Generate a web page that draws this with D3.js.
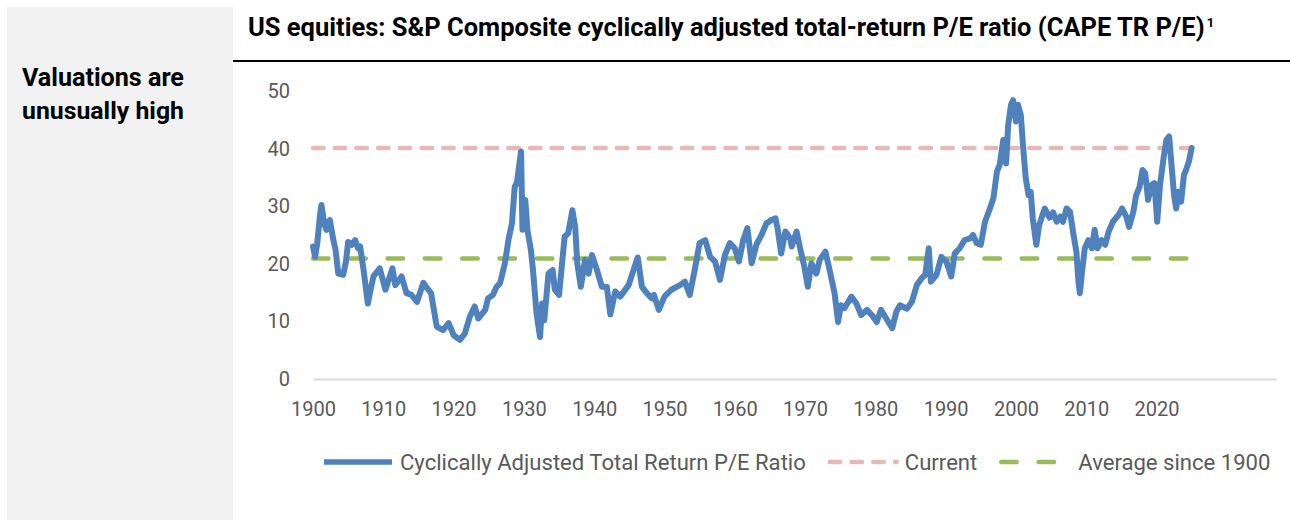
<!DOCTYPE html>
<html>
<head>
<meta charset="utf-8">
<script src="https://cdn.jsdelivr.net/npm/d3@7"></script>
<style>
  html, body { margin: 0; padding: 0; background: #fff; }
  svg { display: block; font-family: Roboto, "Noto Sans", sans-serif; }
</style>
</head>
<body>
<svg id="chart" width="1290" height="520"></svg>
<script>

// CAPE TR P/E readings (year fraction, value)
let dates = [
    1900.0, 1900.3, 1900.6, 1901.0, 1901.2, 1901.6, 1901.9, 1902.4, 1902.9, 1903.2,
    1903.6, 1904.3, 1904.7, 1905.0, 1905.5, 1906.0, 1906.4, 1906.7, 1907.2, 1907.8,
    1908.2, 1908.6, 1909.5, 1910.3, 1911.3, 1911.7, 1912.6, 1913.3, 1914.0, 1914.8,
    1915.7, 1916.4, 1916.8, 1917.6, 1918.5, 1919.3, 1920.0, 1920.9, 1921.6, 1922.3,
    1923.0, 1923.5, 1924.5, 1924.9, 1925.6, 1926.1, 1926.6, 1927.3, 1927.8, 1928.3,
    1928.7, 1929.0, 1929.6, 1929.8, 1930.2, 1930.5, 1931.0, 1931.3, 1931.8, 1932.3,
    1932.6, 1932.9, 1933.5, 1934.1, 1934.4, 1935.0, 1935.8, 1936.3, 1936.9, 1937.3,
    1937.6, 1938.1, 1938.7, 1939.2, 1939.7, 1940.4, 1941.1, 1941.8, 1942.3, 1943.0,
    1943.7, 1944.9, 1945.6, 1946.2, 1946.8, 1947.5, 1948.2, 1948.5, 1949.2, 1950.0,
    1951.0, 1952.2, 1952.9, 1953.6, 1954.3, 1955.0, 1955.8, 1956.5, 1957.2, 1957.9,
    1958.6, 1959.3, 1960.0, 1960.6, 1961.2, 1961.8, 1962.4, 1963.1, 1963.8, 1964.5,
    1965.2, 1965.8, 1966.1, 1966.6, 1967.2, 1967.9, 1968.1, 1968.8, 1969.3, 1969.9,
    1970.4, 1970.9, 1971.6, 1972.1, 1972.9, 1973.5, 1974.2, 1974.7, 1975.1, 1975.6,
    1976.6, 1977.3, 1978.0, 1978.8, 1979.5, 1980.2, 1980.8, 1981.4, 1982.4, 1983.0,
    1983.5, 1984.5, 1985.2, 1985.9, 1986.6, 1987.1, 1987.6, 1987.9, 1988.7, 1989.4,
    1990.1, 1990.8, 1991.3, 1992.0, 1992.7, 1993.5, 1993.9, 1994.4, 1995.0, 1995.6,
    1996.3, 1996.8, 1997.3, 1997.7, 1998.2, 1998.6, 1998.9, 1999.3, 1999.6, 2000.0,
    2000.3, 2000.7, 2001.0, 2001.4, 2001.8, 2002.1, 2002.4, 2002.9, 2003.3, 2004.1,
    2004.8, 2005.3, 2005.8, 2006.3, 2006.7, 2007.2, 2007.7, 2008.2, 2008.6, 2008.9,
    2009.1, 2009.4, 2009.8, 2010.3, 2010.8, 2011.2, 2011.6, 2012.2, 2012.7, 2013.2,
    2013.8, 2014.6, 2015.1, 2015.7, 2016.1, 2016.7, 2017.1, 2017.6, 2018.0, 2018.4,
    2018.8, 2019.3, 2019.7, 2020.1, 2020.5, 2021.0, 2021.4, 2021.8, 2022.1, 2022.5,
    2022.8, 2023.1, 2023.5, 2023.9, 2024.2, 2024.6, 2025.0
];

let cape = [
    23.0, 21.2, 23.5, 28.5, 30.2, 27.0, 25.9, 27.6, 24.1, 22.5,
    18.3, 18.1, 20.5, 23.8, 23.3, 24.1, 22.7, 23.0, 18.9, 13.1,
    15.5, 17.8, 19.2, 15.5, 19.2, 16.3, 17.8, 14.9, 14.6, 13.4,
    16.7, 15.5, 14.9, 9.1, 8.5, 9.7, 7.6, 6.8, 7.9, 10.8,
    12.6, 10.5, 12.0, 14.0, 14.6, 16.0, 16.6, 20.1, 24.1, 27.0,
    33.4, 34.0, 39.5, 25.9, 31.1, 25.9, 22.4, 18.9, 11.4, 7.3,
    13.1, 10.2, 18.3, 18.9, 15.5, 14.6, 24.7, 25.3, 29.3, 26.4,
    20.1, 16.0, 20.7, 18.3, 21.5, 18.9, 16.0, 16.0, 11.2, 15.2,
    14.3, 16.3, 18.9, 21.1, 16.0, 14.9, 14.0, 14.6, 12.0, 14.3,
    15.5, 16.3, 16.9, 14.6, 18.9, 23.6, 24.1, 21.2, 20.4, 17.2,
    21.5, 23.6, 22.7, 20.4, 24.1, 26.2, 20.1, 23.4, 25.0, 27.0,
    27.6, 27.9, 26.1, 21.8, 25.6, 24.4, 23.0, 25.6, 22.7, 19.5,
    16.0, 20.1, 18.3, 20.7, 22.1, 18.9, 14.9, 9.9, 12.8, 12.3,
    14.3, 13.1, 11.1, 12.0, 11.1, 9.9, 12.0, 10.8, 8.8, 11.7,
    12.8, 12.2, 13.4, 16.3, 17.5, 18.1, 22.7, 16.9, 18.1, 21.2,
    20.4, 17.8, 21.8, 22.7, 24.1, 24.4, 25.0, 23.6, 23.3, 27.3,
    29.6, 31.4, 36.0, 37.2, 41.5, 37.4, 44.1, 47.6, 48.4, 44.7,
    47.6, 45.8, 40.6, 34.8, 31.9, 32.5, 27.9, 23.3, 26.7, 29.6,
    28.0, 28.9, 27.3, 28.2, 27.3, 29.6, 29.0, 25.0, 22.1, 16.9,
    14.9, 18.6, 22.7, 24.1, 22.7, 25.9, 22.7, 24.1, 23.3, 25.6,
    27.3, 28.5, 29.6, 28.2, 26.4, 29.0, 31.9, 33.4, 36.3, 35.7,
    31.1, 33.7, 34.0, 27.3, 33.7, 38.3, 41.5, 42.1, 37.7, 31.9,
    29.6, 32.5, 30.8, 35.4, 36.3, 37.7, 40.1
];

let currentLevel = 40.1;
let averageLevel = 20.9;

let yTicks = [0, 10, 20, 30, 40, 50];
let xTickLabels = ['1900', '1910', '1920', '1930', '1940', '1950', '1960',
    '1970', '1980', '1990', '2000', '2010', '2020'];

let titleText = 'US equities: S&P Composite cyclically adjusted total-return P/E ratio (CAPE TR P/E)';
let sideLines = ['Valuations are', 'unusually high'];
let legendLabels = ['Cyclically Adjusted Total Return P/E Ratio', 'Current', 'Average since 1900'];

let Colors = {
    Cape: '#4f81bd',
    Current: '#e6b9b8',
    Average: '#9bbb59',
    Text: '#595959',
    Axis: '#d9d9d9',
    Panel: '#f2f2f2'
};

let Plot = { Left: 313, Right: 1276, Top: 91, Bottom: 379 };

let svg = d3.select('#chart');

// grows/shrinks a text node's font so its width matches the reference
function fitWidth(sel, target) {
    let w = sel.node().getComputedTextLength();
    let fs = parseFloat(sel.attr('font-size'));
    sel.attr('font-size', (fs * target / w).toFixed(2));
}

// left grey panel
svg.append('rect')
    .attr('x', 7).attr('y', 7)
    .attr('width', 226).attr('height', 513)
    .attr('fill', Colors.Panel);

sideLines.forEach((line, i) => {
    let t = svg.append('text')
        .attr('x', 22)
        .attr('y', 86 + i * 33)
        .attr('font-size', 20)
        .attr('font-weight', 700)
        .attr('fill', '#000')
        .text(line);
    fitWidth(t, 162);
});

// title + rule
let title = svg.append('text')
    .attr('x', 248)
    .attr('y', 36)
    .attr('font-size', 18)
    .attr('font-weight', 700)
    .attr('fill', '#000')
    .text(titleText);
fitWidth(title, 957);
let titleEnd = 248 + title.node().getComputedTextLength();
svg.append('text')
    .attr('x', titleEnd + 2)
    .attr('y', 27)
    .attr('font-size', 13)
    .attr('font-weight', 700)
    .text('1');

svg.append('line')
    .attr('x1', 233).attr('x2', 1290)
    .attr('y1', 61).attr('y2', 61)
    .attr('stroke', '#000')
    .attr('stroke-width', 2);

// scales
let x = d3.scaleLinear()
    .domain([1900, 2037])
    .range([Plot.Left, Plot.Right]);

let y = d3.scaleLinear()
    .domain([0, 50])
    .range([Plot.Bottom, Plot.Top]);

// axes
let xAxis = svg.append('g')
    .attr('transform', `translate(0,${Plot.Bottom})`)
    .call(d3.axisBottom(x)
        .tickValues(xTickLabels.map(Number))
        .tickFormat(d3.format('d'))
        .tickSize(0)
        .tickPadding(23));
xAxis.select('.domain')
    .attr('stroke', Colors.Axis)
    .attr('stroke-width', 2);
xAxis.selectAll('text')
    .attr('font-size', 20)
    .attr('font-family', 'Roboto, sans-serif')
    .attr('fill', Colors.Text);

let yAxis = svg.append('g')
    .attr('transform', `translate(${Plot.Left},0)`)
    .call(d3.axisLeft(y)
        .tickValues(yTicks)
        .tickSize(0)
        .tickPadding(23));
yAxis.select('.domain').remove();
yAxis.selectAll('text')
    .attr('font-size', 20)
    .attr('font-family', 'Roboto, sans-serif')
    .attr('fill', Colors.Text);

// reference lines
let firstYear = dates[0];
let lastYear = dates[dates.length - 1];

svg.append('line')
    .attr('x1', x(firstYear)).attr('x2', x(lastYear))
    .attr('y1', y(averageLevel)).attr('y2', y(averageLevel))
    .attr('stroke', Colors.Average)
    .attr('stroke-width', 4.5)
    .attr('stroke-linecap', 'round')
    .attr('stroke-dasharray', '15.5,21.8');

svg.append('line')
    .attr('x1', x(firstYear)).attr('x2', x(lastYear))
    .attr('y1', y(currentLevel)).attr('y2', y(currentLevel))
    .attr('stroke', Colors.Current)
    .attr('stroke-width', 4.5)
    .attr('stroke-linecap', 'round')
    .attr('stroke-dasharray', '10.5,11.2');

// the CAPE series
let line = d3.line()
    .x((d, i) => x(dates[i]))
    .y(d => y(d));

svg.append('path')
    .datum(cape)
    .attr('d', line)
    .attr('fill', 'none')
    .attr('stroke', Colors.Cape)
    .attr('stroke-width', 6)
    .attr('stroke-linejoin', 'round')
    .attr('stroke-linecap', 'round');

// legend
let legendY = 462;
let legendItems = [
    { label: legendLabels[0], color: Colors.Cape, dash: null, width: 5.5, sample: 72, gap: 6 },
    { label: legendLabels[1], color: Colors.Current, dash: '10.5,11.2', width: 4.5, sample: 71, gap: 6 },
    { label: legendLabels[2], color: Colors.Average, dash: '15.5,21.8', width: 4.5, sample: 61, gap: 18 }
];

let legend = svg.append('g');
let cursor = 322;
let legendFont = 20;
legendItems.forEach((item, i) => {
    let g = legend.append('g');
    g.append('line')
        .attr('x1', cursor + 2).attr('x2', cursor + item.sample - 2)
        .attr('y1', legendY).attr('y2', legendY)
        .attr('stroke', item.color)
        .attr('stroke-width', item.width)
        .attr('stroke-linecap', item.dash ? 'round' : 'butt')
        .attr('stroke-dasharray', item.dash);
    cursor += item.sample + item.gap;
    let t = g.append('text')
        .attr('x', cursor)
        .attr('y', legendY)
        .attr('dy', '0.35em')
        .attr('font-size', legendFont)
        .attr('fill', Colors.Text)
        .text(item.label);
    if (i === 0) {
        fitWidth(t, 406);
        legendFont = +t.attr('font-size');
    }
    cursor += t.node().getComputedTextLength() + 22;
});

</script>
</body>
</html>
